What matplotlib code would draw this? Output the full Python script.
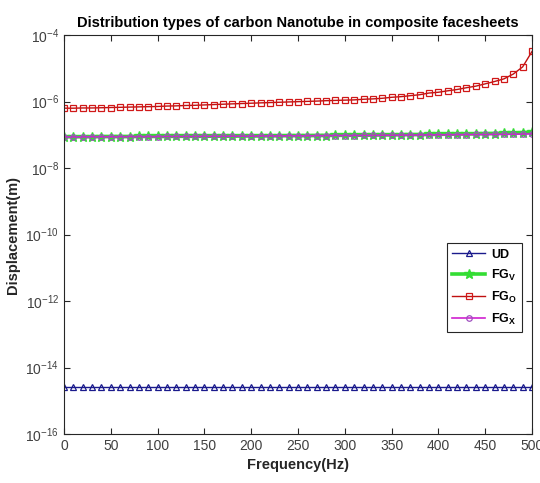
import numpy as np
import matplotlib.pyplot as plt
from matplotlib.ticker import LogLocator, NullLocator

plt.rcParams['font.family'] = ['Liberation Sans', 'DejaVu Sans']
plt.rcParams['mathtext.fontset'] = 'custom'
plt.rcParams['mathtext.rm'] = 'Liberation Sans'
plt.rcParams['mathtext.bf'] = 'Liberation Sans:bold'

# frequency sweep (Hz)
freq = list(range(0, 501, 10))

# displacement amplitude (m) for each CNT distribution
disp_ud = [
    2.6e-15, 2.6e-15, 2.6e-15, 2.6e-15, 2.6e-15, 2.6e-15, 2.6e-15, 2.6e-15, 2.6e-15, 2.6e-15,
    2.6e-15, 2.6e-15, 2.6e-15, 2.6e-15, 2.6e-15, 2.6e-15, 2.6e-15, 2.6e-15, 2.6e-15, 2.6e-15,
    2.6e-15, 2.6e-15, 2.6e-15, 2.6e-15, 2.6e-15, 2.6e-15, 2.6e-15, 2.6e-15, 2.6e-15, 2.6e-15,
    2.6e-15, 2.6e-15, 2.6e-15, 2.6e-15, 2.6e-15, 2.6e-15, 2.6e-15, 2.6e-15, 2.6e-15, 2.6e-15,
    2.6e-15, 2.6e-15, 2.6e-15, 2.6e-15, 2.6e-15, 2.6e-15, 2.6e-15, 2.6e-15, 2.6e-15, 2.6e-15,
    2.6e-15]
disp_fgv = [
    8.7e-8, 8.7e-8, 8.7e-8, 8.7e-8, 8.8e-8, 8.8e-8, 8.8e-8, 8.8e-8, 8.9e-8, 8.9e-8,
    8.9e-8, 8.9e-8, 9.0e-8, 9.0e-8, 9.0e-8, 9.0e-8, 9.1e-8, 9.1e-8, 9.1e-8, 9.2e-8,
    9.2e-8, 9.2e-8, 9.3e-8, 9.3e-8, 9.4e-8, 9.4e-8, 9.4e-8, 9.5e-8, 9.5e-8, 9.6e-8,
    9.6e-8, 9.7e-8, 9.7e-8, 9.8e-8, 9.9e-8, 9.9e-8, 1.00e-7, 1.01e-7, 1.01e-7, 1.02e-7,
    1.03e-7, 1.04e-7, 1.05e-7, 1.06e-7, 1.07e-7, 1.08e-7, 1.09e-7, 1.11e-7, 1.13e-7, 1.16e-7,
    1.20e-7]
disp_fgo = [
    6.3e-7, 6.3e-7, 6.4e-7, 6.4e-7, 6.5e-7, 6.6e-7, 6.7e-7, 6.8e-7, 6.9e-7, 7.0e-7,
    7.1e-7, 7.3e-7, 7.4e-7, 7.6e-7, 7.7e-7, 7.9e-7, 8.1e-7, 8.3e-7, 8.5e-7, 8.7e-7,
    8.9e-7, 9.1e-7, 9.3e-7, 9.5e-7, 9.7e-7, 9.9e-7, 1.01e-6, 1.03e-6, 1.06e-6, 1.08e-6,
    1.10e-6, 1.12e-6, 1.17e-6, 1.20e-6, 1.25e-6, 1.34e-6, 1.40e-6, 1.50e-6, 1.60e-6, 1.80e-6,
    1.90e-6, 2.1e-6, 2.3e-6, 2.6e-6, 2.9e-6, 3.4e-6, 4.0e-6, 4.8e-6, 6.7e-6, 1.1e-5,
    3.2e-5]
disp_fgx = [
    8.6e-8, 8.6e-8, 8.6e-8, 8.7e-8, 8.7e-8, 8.7e-8, 8.7e-8, 8.8e-8, 8.8e-8, 8.8e-8,
    8.8e-8, 8.9e-8, 8.9e-8, 8.9e-8, 8.9e-8, 9.0e-8, 9.0e-8, 9.0e-8, 9.1e-8, 9.1e-8,
    9.1e-8, 9.2e-8, 9.2e-8, 9.2e-8, 9.3e-8, 9.3e-8, 9.3e-8, 9.4e-8, 9.4e-8, 9.5e-8,
    9.5e-8, 9.5e-8, 9.6e-8, 9.6e-8, 9.7e-8, 9.7e-8, 9.8e-8, 9.8e-8, 9.9e-8, 9.9e-8,
    1.00e-7, 1.00e-7, 1.01e-7, 1.01e-7, 1.02e-7, 1.02e-7, 1.03e-7, 1.03e-7, 1.04e-7, 1.05e-7,
    1.06e-7]

labels = ['UD', r'FG$_\mathbf{V}$', r'FG$_\mathbf{O}$', r'FG$_\mathbf{X}$']

fig = plt.figure(figsize=(5.4, 4.83), dpi=100)
ax = fig.add_axes([0.1185, 0.1014, 0.8667, 0.8261])

ax.plot(freq, disp_ud, color='#1a1a8c', lw=1.0, marker='^', ms=5,
        mfc='none', mec='#1a1a8c', mew=0.9, label=labels[0])
ax.plot(freq, disp_fgv, color='#33dd33', lw=2.6, marker='*', ms=7,
        mfc='#33dd33', mec='#33dd33', label=labels[1])
ax.plot(freq, disp_fgo, color='#c01010', lw=1.0, marker='s', ms=4,
        mfc='none', mec='#d01818', mew=0.9, label=labels[2])
ax.plot(freq, disp_fgx, color='#d020d0', lw=1.2, marker='o', ms=4,
        mfc='none', mec='#a050c0', mew=0.9, label=labels[3])

ax.set_yscale('log')
ax.set_xlim(0, 500)
ax.set_ylim(1e-16, 1e-4)
ax.set_xticks(np.arange(0, 501, 50))
ax.yaxis.set_major_locator(LogLocator(base=100.0, numticks=10))
ax.yaxis.set_minor_locator(NullLocator())

for s in ax.spines.values():
    s.set_color('#262626')
    s.set_linewidth(0.8)
ax.tick_params(direction='in', top=True, right=True, length=4,
               colors='#262626', labelcolor='#404040', labelsize=10)

ax.set_title('Distribution types of carbon Nanotube in composite facesheets',
             fontsize=10.5, fontweight='bold', pad=6)
ax.set_xlabel('Frequency(Hz)', fontsize=10.5, fontweight='bold', color='#262626')
ax.set_ylabel('Displacement(m)', fontsize=10.5, fontweight='bold', color='#262626')

leg = ax.legend(loc='upper right', bbox_to_anchor=(0.985, 0.485),
                prop={'weight': 'bold', 'size': 9},
                fancybox=False, edgecolor='#262626', framealpha=1,
                handlelength=2.6, handletextpad=0.5, borderpad=0.45,
                labelspacing=0.55, borderaxespad=0.2)
leg.get_frame().set_linewidth(0.8)

fig.savefig('out.png', dpi=100)
